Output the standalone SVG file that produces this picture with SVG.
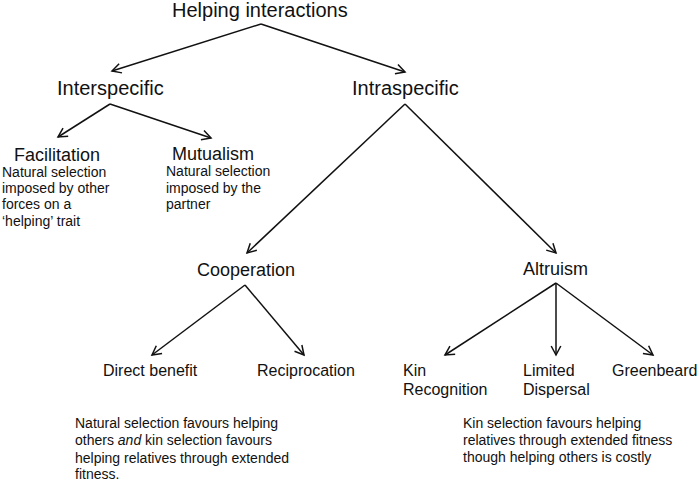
<svg xmlns="http://www.w3.org/2000/svg" width="697" height="481" viewBox="0 0 697 481">
<style>
text{font-family:"Liberation Sans",Arial,sans-serif;fill:#111}
.t20{font-size:20px}
.t18{font-size:18px}
.t16{font-size:16px}
.t14{font-size:14px}
.c line{stroke:#111;stroke-width:1.5;fill:none;marker-end:url(#ah)}
</style>
<defs>
<marker id="ah" markerUnits="userSpaceOnUse" markerWidth="14" markerHeight="14" viewBox="-12 -7 14 14" refX="0" refY="0" orient="auto">
<path d="M-9,-4.8 L0,0 L-9,4.8" fill="none" stroke="#111" stroke-width="1.5" stroke-linejoin="miter"/>
</marker>
</defs>
<rect width="697" height="481" fill="#fff"/>
<g id="connectors" class="c">
<line x1="261" y1="24" x2="112" y2="71"/>
<line x1="261" y1="24" x2="405" y2="72"/>
<line x1="110" y1="104" x2="58" y2="137"/>
<line x1="110" y1="104" x2="211" y2="138"/>
<line x1="405" y1="104" x2="247" y2="253"/>
<line x1="405" y1="104" x2="556" y2="253"/>
<line x1="245" y1="285" x2="152" y2="355"/>
<line x1="245" y1="285" x2="304" y2="355"/>
<line x1="556" y1="283" x2="445" y2="355"/>
<line x1="556" y1="283" x2="556" y2="355"/>
<line x1="556" y1="283" x2="653" y2="355"/>
</g>
<g id="helping"><text class="t20" x="172" y="16.5">Helping interactions</text></g>
<g id="interspecific"><text class="t20" x="57" y="95">Interspecific</text></g>
<g id="intraspecific"><text class="t20" x="352" y="95">Intraspecific</text></g>
<g id="facilitation">
<text class="t18" x="14" y="160.5">Facilitation</text>
<text class="t14" x="2" y="176.5">Natural selection</text>
<text class="t14" x="2" y="193">imposed by other</text>
<text class="t14" x="2" y="209">forces on a</text>
<text class="t14" x="2" y="225.5">‘helping’ trait</text>
</g>
<g id="mutualism">
<text class="t18" x="172" y="160">Mutualism</text>
<text class="t14" x="166" y="176">Natural selection</text>
<text class="t14" x="166" y="192.5">imposed by the</text>
<text class="t14" x="166" y="208.5">partner</text>
</g>
<g id="cooperation"><text class="t18" x="197" y="276">Cooperation</text></g>
<g id="altruism"><text class="t18" x="523" y="275">Altruism</text></g>
<g id="direct"><text class="t16" x="103" y="376">Direct benefit</text></g>
<g id="reciprocation"><text class="t16" x="257" y="376">Reciprocation</text></g>
<g id="kin">
<text class="t16" x="403" y="376">Kin</text>
<text class="t16" x="403" y="395">Recognition</text>
</g>
<g id="limited">
<text class="t16" x="523" y="376">Limited</text>
<text class="t16" x="523" y="395">Dispersal</text>
</g>
<g id="greenbeard"><text class="t16" x="612" y="376">Greenbeard</text></g>
<g id="note-left">
<text class="t14" x="75" y="428">Natural selection favours helping</text>
<text class="t14" x="75" y="445">others <tspan font-style="italic">and</tspan> kin selection favours</text>
<text class="t14" x="75" y="462.5">helping relatives through extended</text>
<text class="t14" x="75" y="479">fitness.</text>
</g>
<g id="note-right">
<text class="t14" x="463" y="428">Kin selection favours helping</text>
<text class="t14" x="463" y="445">relatives through extended fitness</text>
<text class="t14" x="463" y="462">though helping others is costly</text>
</g>
</svg>
